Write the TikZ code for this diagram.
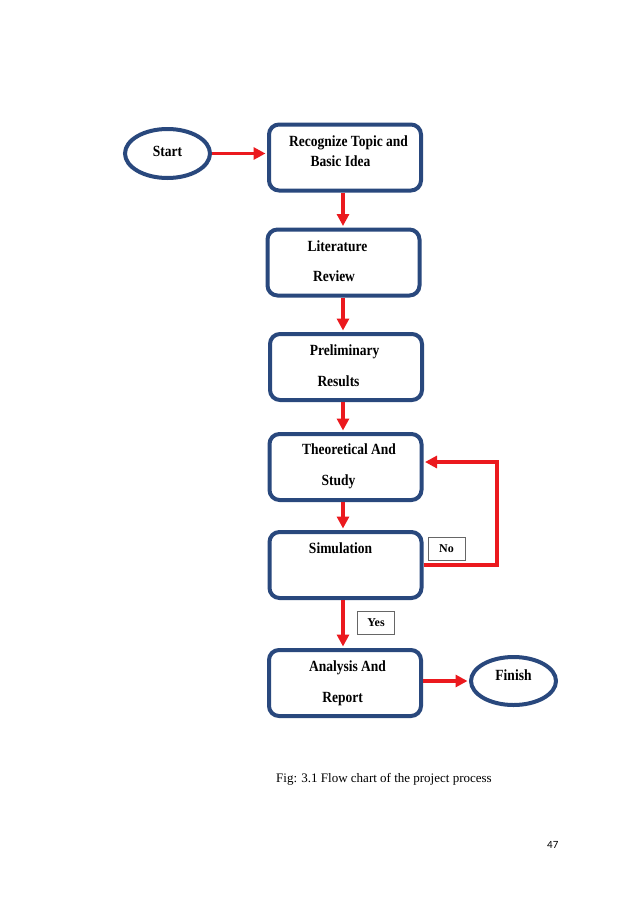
\documentclass[tikz,border=0pt]{standalone}
\usepackage{fontspec}
\setmainfont{Liberation Serif}
\newfontfamily\numfont{Carlito}
\usetikzlibrary{shapes.geometric,arrows.meta}
\definecolor{boxblue}{RGB}{41,72,125}
\definecolor{arrred}{RGB}{235,25,30}
\newcommand{\tallt}[1]{\scalebox{1}[1.15]{#1}}
\begin{document}
\begin{tikzpicture}[x=1pt,y=-1pt,
  procbox/.style={draw=boxblue,line width=4pt,rounded corners=10pt,minimum width=152pt,minimum height=66pt,inner sep=0pt,fill=white},
  termnode/.style={draw=boxblue,line width=4pt,ellipse,minimum width=85pt,minimum height=49pt,inner sep=0pt,fill=white},
  boxtext/.style={font=\bfseries\fontsize{13.5}{16}\selectfont,inner sep=0pt,text height=10pt,text depth=3pt},
  tagbox/.style={draw=black!60,line width=0.8pt,minimum width=37pt,minimum height=23pt,inner sep=0pt,font=\bfseries\fontsize{12}{14}\selectfont},
  arr/.style={draw=arrred,line width=3.5pt,-{Triangle[length=12pt,width=12pt]},shorten >=1.5pt}
]
\useasboundingbox[fill=white] (0,0) rectangle (638,903);

% connectors (drawn first, boxes on top)
\coordinate (fbR) at (497,565);
\coordinate (fbT) at (497,462);

% boxes
\node[termnode] (start) at (167.5,153.5) {};
\node[procbox] (rec) at (345,157.5) {};
\node[procbox] (lit) at (343.5,262.5) {};
\node[procbox] (pre) at (346,367) {};
\node[procbox] (theo) at (345.5,467) {};
\node[procbox] (sim) at (345.5,565) {};
\node[procbox] (ana) at (345,683) {};
\node[termnode,minimum height=48pt] (fin) at (513.5,681) {};

\draw[arr] (start.east) -- (start.east -| rec.west);
\draw[arr] (rec.south -| 343,0) -- (lit.north -| 343,0);
\draw[arr] (lit.south -| 343,0) -- (pre.north -| 343,0);
\draw[arr] (pre.south -| 343,0) -- (theo.north -| 343,0);
\draw[arr] (theo.south -| 343,0) -- (sim.north -| 343,0);
\draw[arr] (sim.south -| 343,0) -- (ana.north -| 343,0);
\draw[arr] (sim.east) -- (fbR) -- (fbT) -- (fbT -| theo.east);
\draw[arr] (fin.west -| ana.east) -- (fin.west);

% texts
\node[boxtext] (tstart) at (167.5,153) {\tallt{Start}};
\node[boxtext] (trec1) at (348.5,143) {\tallt{Recognize Topic and}};
\node[boxtext] (trec2) at (340.5,163) {\tallt{Basic Idea}};
\node[boxtext] (tlit1) at (337.5,248) {\tallt{Literature}};
\node[boxtext] (tlit2) at (334,278) {\tallt{Review}};
\node[boxtext] (tpre1) at (344.5,352) {\tallt{Preliminary}};
\node[boxtext] (tpre2) at (338.5,383) {\tallt{Results}};
\node[boxtext] (ttheo1) at (349,451) {\tallt{Theoretical And}};
\node[boxtext] (ttheo2) at (338.5,482) {\tallt{Study}};
\node[boxtext] (tsim) at (340.5,550) {\tallt{Simulation}};
\node[boxtext] (tana1) at (347.5,668) {\tallt{Analysis And}};
\node[boxtext] (tana2) at (342.5,699) {\tallt{Report}};
\node[boxtext] (tfin) at (513.5,677) {\tallt{Finish}};

% tags
\node[tagbox] (no) at (446.5,548.5) {No};
\node[tagbox] (yes) at (376,622.5) {Yes};

% caption
\node[anchor=base west,inner sep=0pt,font=\fontsize{13}{15}\selectfont] (cap) at (276,782) {Fig: 3.1 Flow chart of the project process};
\node[anchor=base west,inner sep=0pt,font=\numfont\fontsize{11}{13}\selectfont] (pg) at (547,848) {47};
\end{tikzpicture}
\end{document}
